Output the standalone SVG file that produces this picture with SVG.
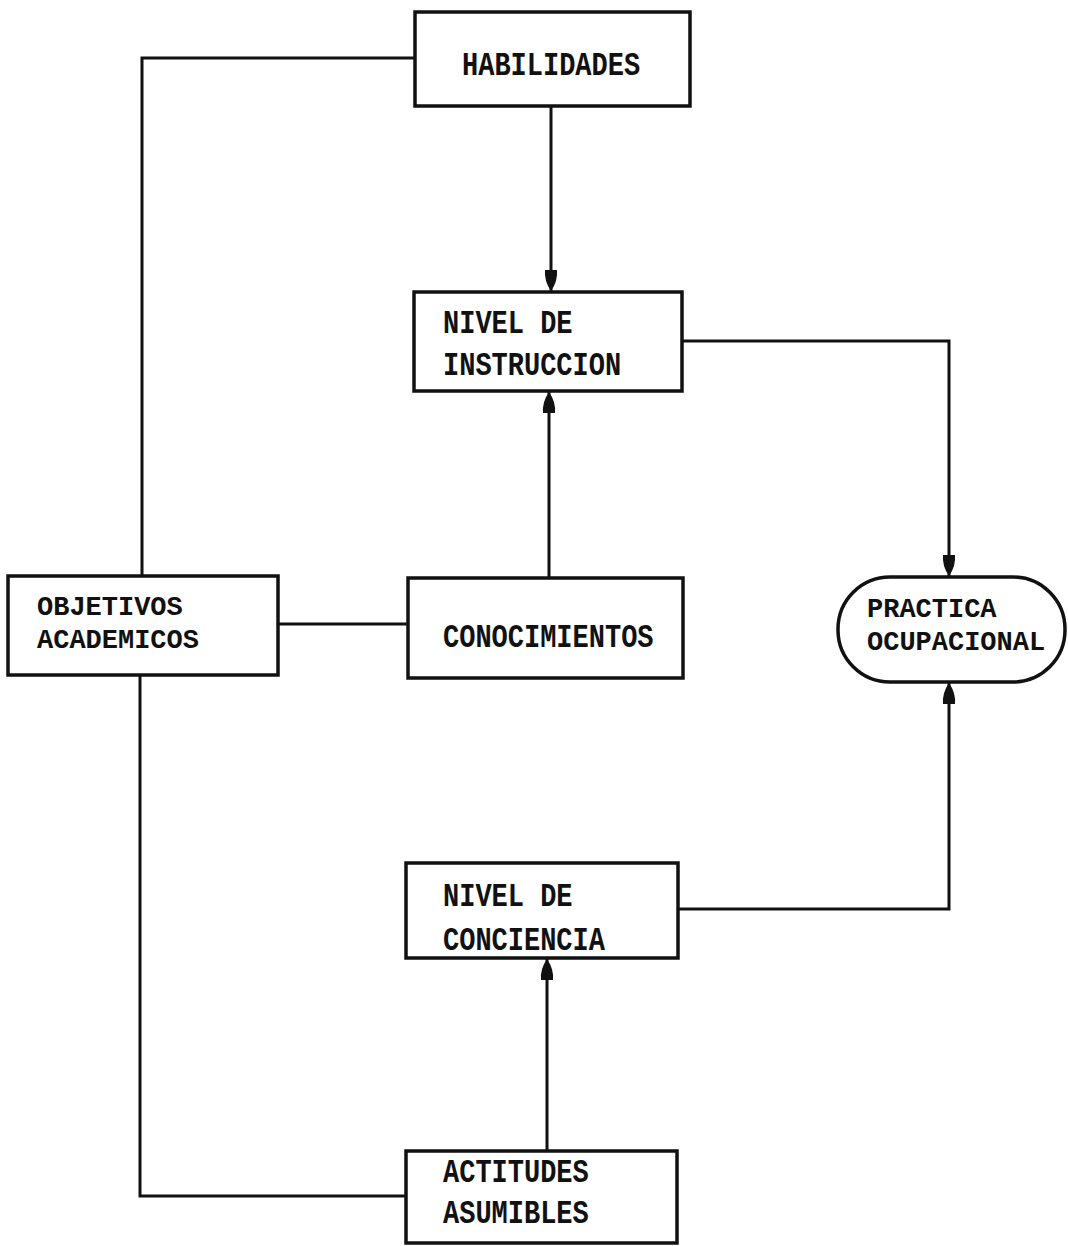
<svg xmlns="http://www.w3.org/2000/svg" width="1068" height="1246" viewBox="0 0 1068 1246">
<defs>
<style>
.box{fill:#fff;stroke:#111;stroke-width:3.5}
.ln{fill:none;stroke:#111;stroke-width:3}
.t{font-family:"Liberation Mono","Courier New",monospace;font-weight:bold;font-size:27px;fill:#111}
</style>
<marker id="ah" markerUnits="userSpaceOnUse" markerWidth="24" markerHeight="16" viewBox="-22 -8 24 16" refX="0" refY="0" orient="auto">
<path d="M0,0 Q-10,-7 -21,-6 L-21,6 Q-10,7 0,0 Z" fill="#111"/>
</marker>
</defs>
<rect width="1068" height="1246" fill="#fff"/>
<g id="connectors">
<polyline class="ln" points="415,58 142,58 142,576"/>
<line class="ln" x1="551" y1="106" x2="551" y2="291" marker-end="url(#ah)"/>
<line class="ln" x1="549" y1="578" x2="549" y2="392" marker-end="url(#ah)"/>
<polyline class="ln" points="682,341 949,341 949,576" marker-end="url(#ah)"/>
<line class="ln" x1="278" y1="624" x2="408" y2="624"/>
<polyline class="ln" points="140,675 140,1196 406,1196"/>
<polyline class="ln" points="678,909 949,909 949,683" marker-end="url(#ah)"/>
<line class="ln" x1="547" y1="1151" x2="547" y2="959" marker-end="url(#ah)"/>
</g>
<g id="habilidades">
<rect class="box" x="415" y="12" width="275" height="94"/>
<text class="t" transform="translate(462,75) scale(1,1.25)">HABILIDADES</text>
</g>
<g id="nivel-instruccion">
<rect class="box" x="414" y="292" width="268" height="99"/>
<text class="t" transform="translate(443,333) scale(1,1.25)">NIVEL DE</text>
<text class="t" transform="translate(443,375) scale(1,1.25)">INSTRUCCION</text>
</g>
<g id="objetivos">
<rect class="box" x="8" y="576" width="270" height="99"/>
<text class="t" transform="translate(37,615) scale(1,1.05)">OBJETIVOS</text>
<text class="t" transform="translate(37,648) scale(1,1.05)">ACADEMICOS</text>
</g>
<g id="conocimientos">
<rect class="box" x="408" y="578" width="275" height="100"/>
<text class="t" transform="translate(443,647) scale(1,1.25)">CONOCIMIENTOS</text>
</g>
<g id="practica">
<rect class="box" x="838" y="577" width="227" height="105" rx="52" ry="52"/>
<text class="t" transform="translate(867,617) scale(1,1.05)">PRACTICA</text>
<text class="t" transform="translate(867,650) scale(1,1.05)">OCUPACIONAL</text>
</g>
<g id="nivel-conciencia">
<rect class="box" x="406" y="863" width="272" height="95"/>
<text class="t" transform="translate(443,906) scale(1,1.25)">NIVEL DE</text>
<text class="t" transform="translate(443,950) scale(1,1.25)">CONCIENCIA</text>
</g>
<g id="actitudes">
<rect class="box" x="406" y="1151" width="271" height="92"/>
<text class="t" transform="translate(443,1182) scale(1,1.25)">ACTITUDES</text>
<text class="t" transform="translate(443,1223) scale(1,1.25)">ASUMIBLES</text>
</g>
</svg>
